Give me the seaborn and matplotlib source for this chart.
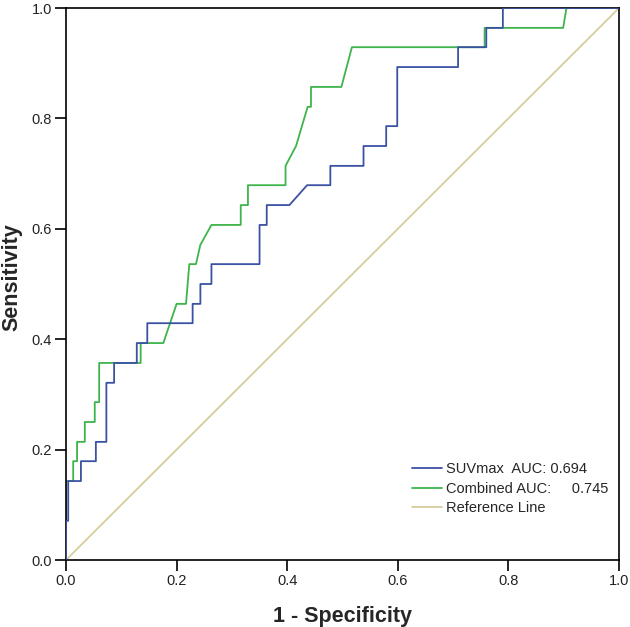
import numpy as np
import pandas as pd
import matplotlib
matplotlib.use("Agg")
import matplotlib.pyplot as plt
import seaborn as sns

# ROC points (1 - specificity, sensitivity)
suv_fpr = [0, 0, 0.004, 0.004, 0.027, 0.027, 0.054, 0.054, 0.073, 0.073,
           0.087, 0.087, 0.128, 0.128, 0.147, 0.147, 0.229, 0.229, 0.243, 0.243,
           0.263, 0.263, 0.350, 0.350, 0.363, 0.363, 0.404, 0.436, 0.478, 0.478,
           0.538, 0.538, 0.579, 0.579, 0.599, 0.599, 0.709, 0.709, 0.760, 0.760,
           0.790, 0.790, 1.0]
suv_tpr = [0, 0.071, 0.071, 0.143, 0.143, 0.179, 0.179, 0.214, 0.214, 0.321,
           0.321, 0.357, 0.357, 0.393, 0.393, 0.429, 0.429, 0.464, 0.464, 0.500,
           0.500, 0.536, 0.536, 0.607, 0.607, 0.643, 0.643, 0.679, 0.679, 0.714,
           0.714, 0.750, 0.750, 0.786, 0.786, 0.893, 0.893, 0.929, 0.929, 0.964,
           0.964, 1.0, 1.0]

comb_fpr = [0, 0, 0.013, 0.013, 0.020, 0.020, 0.034, 0.034, 0.052, 0.052,
            0.060, 0.060, 0.135, 0.135, 0.176, 0.200, 0.217, 0.223, 0.235, 0.243,
            0.263, 0.316, 0.316, 0.329, 0.329, 0.397, 0.397, 0.416, 0.437, 0.443,
            0.443, 0.498, 0.517, 0.757, 0.757, 0.899, 0.905, 1.0]
comb_tpr = [0, 0.143, 0.143, 0.179, 0.179, 0.214, 0.214, 0.250, 0.250, 0.286,
            0.286, 0.357, 0.357, 0.393, 0.393, 0.464, 0.464, 0.536, 0.536, 0.571,
            0.607, 0.607, 0.643, 0.643, 0.679, 0.679, 0.714, 0.750, 0.821, 0.821,
            0.857, 0.857, 0.929, 0.929, 0.964, 0.964, 1.0, 1.0]

ref_x = [0, 1]
ref_y = [0, 1]

labels = ["SUVmax  AUC: 0.694", "Combined AUC:     0.745", "Reference Line"]
colors = ["#3b52a3", "#3db54a", "#d6cd9c"]
ticks = [0.0, 0.2, 0.4, 0.6, 0.8, 1.0]

sns.set_style("white")
plt.rcParams['font.family'] = ['Liberation Sans', 'DejaVu Sans']

fig = plt.figure(figsize=(6.3, 6.27), dpi=100)
ax = fig.add_axes([66 / 630, 1 - 560 / 627, 553 / 630, 552 / 627])

df_suv = pd.DataFrame({"fpr": suv_fpr, "tpr": suv_tpr, "curve": labels[0]})
df_comb = pd.DataFrame({"fpr": comb_fpr, "tpr": comb_tpr, "curve": labels[1]})
df_ref = pd.DataFrame({"fpr": ref_x, "tpr": ref_y, "curve": labels[2]})
df = pd.concat([df_suv, df_comb, df_ref], ignore_index=True)

# reference line first so the curves sit on top
for lab, col, z in [(labels[2], colors[2], 1), (labels[0], colors[0], 3), (labels[1], colors[1], 2)]:
    sns.lineplot(data=df[df["curve"] == lab], x="fpr", y="tpr", sort=False,
                 estimator=None, color=col, linewidth=1.3, ax=ax, label=lab, zorder=z)

ax.set_xlim(0, 1)
ax.set_ylim(0, 1)
ax.set_xticks(ticks)
ax.set_yticks(ticks)
ax.set_xticklabels([f"{v:.1f}" for v in ticks])
ax.set_yticklabels([f"{v:.1f}" for v in ticks])
ax.tick_params(axis="both", direction="out", length=8, width=1.2, color="black",
               labelsize=10.5, labelcolor="#222222", bottom=True, left=True, pad=2)
for s in ax.spines.values():
    s.set_color("black")
    s.set_linewidth(1.2)

ax.set_xlabel("1 - Specificity", fontsize=15.5, fontweight="bold")
ax.set_ylabel("Sensitivity", fontsize=15.5, fontweight="bold")
ax.xaxis.set_label_coords(0.5, -0.083)
ax.yaxis.set_label_coords(-0.078, 0.513)

handles, labs = ax.get_legend_handles_labels()
order = [labs.index(l) for l in labels]
ax.legend([handles[i] for i in order], [labs[i] for i in order], loc="lower right",
          bbox_to_anchor=(0.98, 0.081), frameon=False, fontsize=10.5, handlelength=2.05,
          handletextpad=0.27, labelspacing=0.38, borderaxespad=0, borderpad=0)

fig.savefig("out.png", dpi=100)
